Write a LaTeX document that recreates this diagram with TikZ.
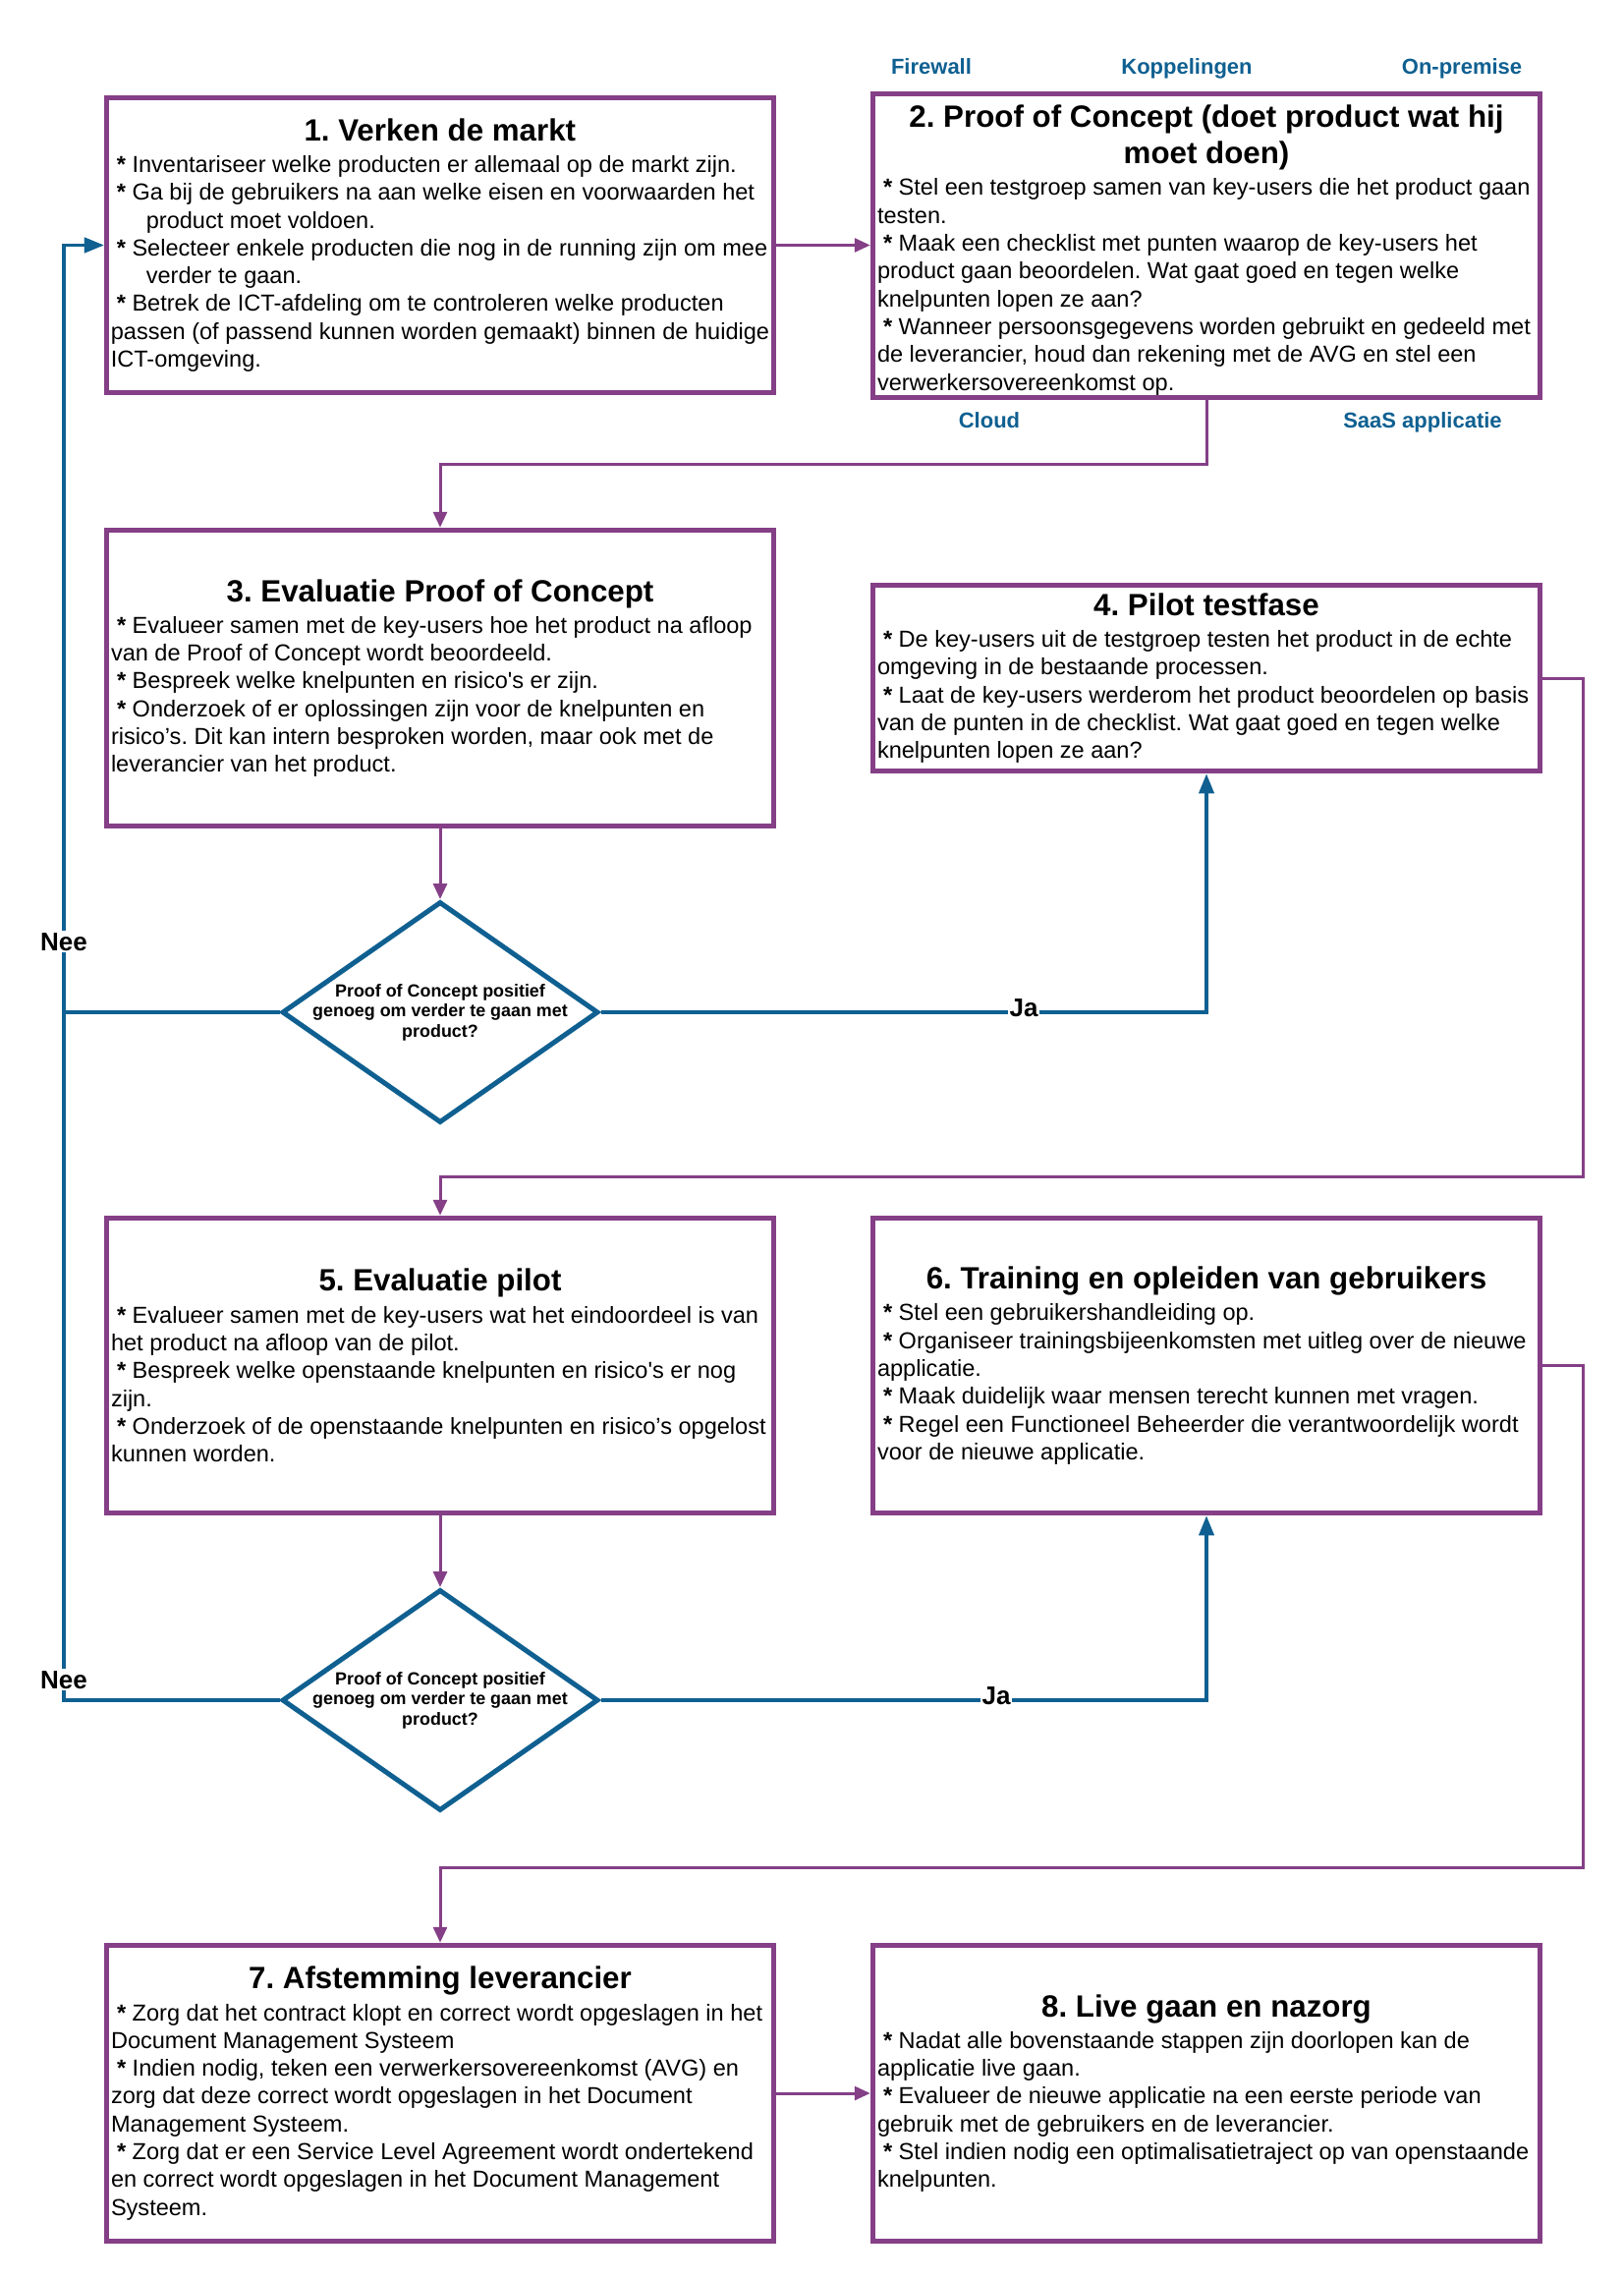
\documentclass[tikz,border=0pt]{standalone}
\usepackage{fontspec}
\setmainfont{Liberation Sans}
\usetikzlibrary{arrows.meta,shapes.geometric}
\definecolor{lpurple}{RGB}{132,63,135}
\definecolor{lblue}{RGB}{15,96,145}
\frenchspacing
\newcommand\titlef{\fontsize{31.3}{37}\selectfont\bfseries}
\newcommand\bodyf{\fontsize{23.55}{28.3}\selectfont}
\newcommand\bxttl[1]{\hbox to 670pt{\hfil\titlef #1\hfil}}
\newcommand\bxln[1]{\hbox{\bodyf #1}}
\newcommand\bul{\hspace*{6pt}\textbf{*}\space}
\newcommand\bxgap{\vskip4pt\baselineskip=28.3pt\relax}
\newcommand\bxin{\hspace*{36pt}}
\tikzset{
  box/.style={draw=lpurple, line width=5.5pt, minimum width=679pt, minimum height=#1, inner sep=0pt, fill=white},
  dia/.style={diamond, draw=lblue, line width=5pt, minimum width=322pt, minimum height=225pt, inner sep=0pt, fill=white},
  pline/.style={draw=lpurple, line width=3pt, -{Triangle[length=16pt,width=14pt]}},
  bline/.style={draw=lblue, line width=3.7pt, -{Triangle[length=20pt,width=15pt]}},
  toplabel/.style={text=lblue, font=\fontsize{22}{26}\selectfont\bfseries, inner sep=0pt, anchor=base},
  yn/.style={font=\fontsize{26}{30}\selectfont\bfseries, fill=white, inner sep=2pt, anchor=base},
  dtext/.style={font=\fontsize{17.9}{20.5}\selectfont\bfseries, align=center, inner sep=0pt}
}
\begin{document}
\begin{tikzpicture}[x=1pt,y=-1pt]
\useasboundingbox (0,0) rectangle (1653,2320);
\fill[white] (0,0) rectangle (1653,2320);

% boxes
\node[box=300pt] (b1) at (448,249.5) {\vbox{\baselineskip=37pt
  \bxttl{1. Verken de markt}\bxgap
  \bxln{\bul Inventariseer welke producten er allemaal op de markt zijn.}
  \bxln{\bul Ga bij de gebruikers na aan welke eisen en voorwaarden het}
  \bxln{\bxin product moet voldoen.}
  \bxln{\bul Selecteer enkele producten die nog in de running zijn om mee}
  \bxln{\bxin verder te gaan.}
  \bxln{\bul Betrek de ICT-afdeling om te controleren welke producten}
  \bxln{passen (of passend kunnen worden gemaakt) binnen de huidige}
  \bxln{ICT-omgeving.}}};

\node[box=309pt] (b2) at (1228,250) {\vbox{\vskip9pt\baselineskip=37pt
  \bxttl{2. Proof of Concept (doet product wat hij}
  \bxttl{moet doen)}\bxgap
  \bxln{\bul Stel een testgroep samen van key-users die het product gaan}
  \bxln{testen.}
  \bxln{\bul Maak een checklist met punten waarop de key-users het}
  \bxln{product gaan beoordelen. Wat gaat goed en tegen welke}
  \bxln{knelpunten lopen ze aan?}
  \bxln{\bul Wanneer persoonsgegevens worden gebruikt en gedeeld met}
  \bxln{de leverancier, houd dan rekening met de AVG en stel een}
  \bxln{verwerkersovereenkomst op.}}};

\node[box=301pt] (b3) at (448,690) {\vbox{\baselineskip=37pt
  \bxttl{3. Evaluatie Proof of Concept}\bxgap
  \bxln{\bul Evalueer samen met de key-users hoe het product na afloop}
  \bxln{van de Proof of Concept wordt beoordeeld.}
  \bxln{\bul Bespreek welke knelpunten en risico\textquotesingle s er zijn.}
  \bxln{\bul Onderzoek of er oplossingen zijn voor de knelpunten en}
  \bxln{risico’s. Dit kan intern besproken worden, maar ook met de}
  \bxln{leverancier van het product.}}};

\node[box=189pt] (b4) at (1228,690) {\vbox{\baselineskip=37pt
  \bxttl{4. Pilot testfase}\bxgap
  \bxln{\bul De key-users uit de testgroep testen het product in de echte}
  \bxln{omgeving in de bestaande processen.}
  \bxln{\bul Laat de key-users werderom het product beoordelen op basis}
  \bxln{van de punten in de checklist. Wat gaat goed en tegen welke}
  \bxln{knelpunten lopen ze aan?}}};

\node[box=300pt] (b5) at (448,1389.5) {\vbox{\baselineskip=37pt
  \bxttl{5. Evaluatie pilot}\bxgap
  \bxln{\bul Evalueer samen met de key-users wat het eindoordeel is van}
  \bxln{het product na afloop van de pilot.}
  \bxln{\bul Bespreek welke openstaande knelpunten en risico\textquotesingle s er nog}
  \bxln{zijn.}
  \bxln{\bul Onderzoek of de openstaande knelpunten en risico’s opgelost}
  \bxln{kunnen worden.}}};

\node[box=300pt] (b6) at (1228,1389.5) {\vbox{\baselineskip=37pt
  \bxttl{6. Training en opleiden van gebruikers}\bxgap
  \bxln{\bul Stel een gebruikershandleiding op.}
  \bxln{\bul Organiseer trainingsbijeenkomsten met uitleg over de nieuwe}
  \bxln{applicatie.}
  \bxln{\bul Maak duidelijk waar mensen terecht kunnen met vragen.}
  \bxln{\bul Regel een Functioneel Beheerder die verantwoordelijk wordt}
  \bxln{voor de nieuwe applicatie.}}};

\node[box=301pt] (b7) at (448,2130) {\vbox{\baselineskip=37pt
  \bxttl{7. Afstemming leverancier}\bxgap
  \bxln{\bul Zorg dat het contract klopt en correct wordt opgeslagen in het}
  \bxln{Document Management Systeem}
  \bxln{\bul Indien nodig, teken een verwerkersovereenkomst (AVG) en}
  \bxln{zorg dat deze correct wordt opgeslagen in het Document}
  \bxln{Management Systeem.}
  \bxln{\bul Zorg dat er een Service Level Agreement wordt ondertekend}
  \bxln{en correct wordt opgeslagen in het Document Management}
  \bxln{Systeem.}}};

\node[box=301pt] (b8) at (1228,2130) {\vbox{\baselineskip=37pt
  \bxttl{8. Live gaan en nazorg}\bxgap
  \bxln{\bul Nadat alle bovenstaande stappen zijn doorlopen kan de}
  \bxln{applicatie live gaan.}
  \bxln{\bul Evalueer de nieuwe applicatie na een eerste periode van}
  \bxln{gebruik met de gebruikers en de leverancier.}
  \bxln{\bul Stel indien nodig een optimalisatietraject op van openstaande}
  \bxln{knelpunten.}}};

% decisions
\node[dia] (d1) at (448,1030) {};
\node[dtext] (d1t) at (448,1030) {Proof of Concept positief\\genoeg om verder te gaan met\\product?};
\node[dia] (d2) at (448,1730) {};
\node[dtext] (d2t) at (448,1730) {Proof of Concept positief\\genoeg om verder te gaan met\\product?};

% top labels
\node[toplabel] (lfw) at (948,76) {Firewall};
\node[toplabel] (lkp) at (1208,76) {Koppelingen};
\node[toplabel] (lop) at (1488,76) {On-premise};
\node[toplabel] (lcl) at (1007,435) {Cloud};
\node[toplabel] (lsa) at (1448,435) {SaaS applicatie};

% helper coordinates
\coordinate (leftrail) at (65,0);
\coordinate (j1) at (1611,1197);
\coordinate (j3) at (1611,1900);

% connectors
\draw[pline] (b1.east) -- (b1.east -| b2.west);
\draw[pline] (b2.south) -- ++(0,65) -| (b3.north);
\draw[pline] (b3.south) -- (d1.north);
\draw[bline] (d1.east) -| (b4.south);
\draw[bline] (d1.west) -- (d1.west -| leftrail) |- (b1.west);
\draw[pline] (b4.east) -| (j1) -| (b5.north);
\draw[pline] (b5.south) -- (d2.north);
\draw[bline] (d2.east) -| (b6.south);
\draw[bline] (d2.west) -- (d2.west -| leftrail) |- (b1.west);
\draw[pline] (b6.east) -| (j3) -| (b7.north);
\draw[pline] (b7.east) -- (b7.east -| b8.west);

% yes/no labels
\node[yn] (ja1) at (1042,1034) {Ja};
\node[yn] (nee1) at (65,967) {Nee};
\node[yn] (ja2) at (1014,1734) {Ja};
\node[yn] (nee2) at (65,1718) {Nee};
\end{tikzpicture}
\end{document}
